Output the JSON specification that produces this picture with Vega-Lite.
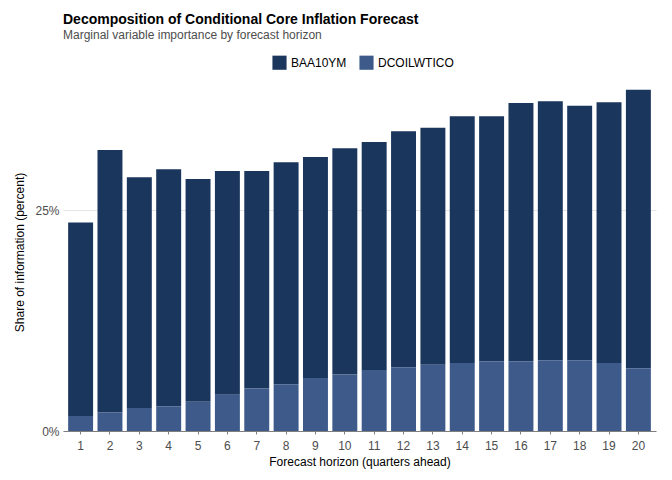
{
  "$schema": "https://vega.github.io/schema/vega-lite/v6.json",
  "autosize": "none",
  "width": 593,
  "height": 358,
  "padding": {"left": 63, "top": 73, "right": 16, "bottom": 49},
  "background": "white",
  "config": {
    "font": "Liberation Sans",
    "view": {"stroke": null}
  },
  "title": {
    "text": "Decomposition of Conditional Core Inflation Forecast",
    "subtitle": "Marginal variable importance by forecast horizon",
    "anchor": "start",
    "frame": "group",
    "fontSize": 14,
    "fontWeight": "bold",
    "color": "#000000",
    "subtitleFontSize": 12,
    "subtitleColor": "#4d4d4d",
    "subtitlePadding": 3,
    "offset": 14
  },
  "data": {
    "values": [
      {"h": 1, "variable": "BAA10YM", "value": 21.9},
      {"h": 1, "variable": "DCOILWTICO", "value": 1.7},
      {"h": 2, "variable": "BAA10YM", "value": 29.7},
      {"h": 2, "variable": "DCOILWTICO", "value": 2.1},
      {"h": 3, "variable": "BAA10YM", "value": 26.1},
      {"h": 3, "variable": "DCOILWTICO", "value": 2.6},
      {"h": 4, "variable": "BAA10YM", "value": 26.8},
      {"h": 4, "variable": "DCOILWTICO", "value": 2.8},
      {"h": 5, "variable": "BAA10YM", "value": 25.2},
      {"h": 5, "variable": "DCOILWTICO", "value": 3.3},
      {"h": 6, "variable": "BAA10YM", "value": 25.3},
      {"h": 6, "variable": "DCOILWTICO", "value": 4.1},
      {"h": 7, "variable": "BAA10YM", "value": 24.6},
      {"h": 7, "variable": "DCOILWTICO", "value": 4.8},
      {"h": 8, "variable": "BAA10YM", "value": 25.1},
      {"h": 8, "variable": "DCOILWTICO", "value": 5.3},
      {"h": 9, "variable": "BAA10YM", "value": 25.0},
      {"h": 9, "variable": "DCOILWTICO", "value": 6.0},
      {"h": 10, "variable": "BAA10YM", "value": 25.6},
      {"h": 10, "variable": "DCOILWTICO", "value": 6.4},
      {"h": 11, "variable": "BAA10YM", "value": 25.8},
      {"h": 11, "variable": "DCOILWTICO", "value": 6.9},
      {"h": 12, "variable": "BAA10YM", "value": 26.7},
      {"h": 12, "variable": "DCOILWTICO", "value": 7.2},
      {"h": 13, "variable": "BAA10YM", "value": 26.8},
      {"h": 13, "variable": "DCOILWTICO", "value": 7.5},
      {"h": 14, "variable": "BAA10YM", "value": 27.9},
      {"h": 14, "variable": "DCOILWTICO", "value": 7.7},
      {"h": 15, "variable": "BAA10YM", "value": 27.7},
      {"h": 15, "variable": "DCOILWTICO", "value": 7.9},
      {"h": 16, "variable": "BAA10YM", "value": 29.2},
      {"h": 16, "variable": "DCOILWTICO", "value": 7.9},
      {"h": 17, "variable": "BAA10YM", "value": 29.3},
      {"h": 17, "variable": "DCOILWTICO", "value": 8.0},
      {"h": 18, "variable": "BAA10YM", "value": 28.8},
      {"h": 18, "variable": "DCOILWTICO", "value": 8.0},
      {"h": 19, "variable": "BAA10YM", "value": 29.5},
      {"h": 19, "variable": "DCOILWTICO", "value": 7.7},
      {"h": 20, "variable": "BAA10YM", "value": 31.5},
      {"h": 20, "variable": "DCOILWTICO", "value": 7.1}
    ]
  },
  "mark": {"type": "bar"},
  "encoding": {
    "x": {
      "field": "h",
      "type": "ordinal",
      "title": "Forecast horizon (quarters ahead)",
      "scale": {"paddingInner": 0.15, "paddingOuter": 0.175},
      "axis": {
        "labelAngle": 0,
        "labelFontSize": 12,
        "labelColor": "#4d4d4d",
        "labelPadding": 6,
        "titleFontSize": 12,
        "titleFontWeight": "normal",
        "titleColor": "#000000",
        "titlePadding": 5,
        "domainColor": "#7f7f7f",
        "tickColor": "#7f7f7f",
        "tickSize": 3,
        "grid": false
      }
    },
    "y": {
      "field": "value",
      "type": "quantitative",
      "stack": "zero",
      "title": "Share of information (percent)",
      "scale": {"domain": [0, 40.5], "nice": false},
      "axis": {
        "values": [0, 25],
        "labelExpr": "datum.value + '%'",
        "labelFontSize": 12,
        "labelColor": "#4d4d4d",
        "labelPadding": 4,
        "titleFontSize": 12,
        "titleFontWeight": "normal",
        "titleColor": "#000000",
        "titlePadding": 8,
        "domain": false,
        "ticks": false,
        "grid": true,
        "gridColor": "#e5e5e5"
      }
    },
    "color": {
      "field": "variable",
      "type": "nominal",
      "scale": {"domain": ["BAA10YM", "DCOILWTICO"], "range": ["#1b365d", "#3d5a8a"]},
      "legend": {
        "title": null,
        "orient": "none",
        "direction": "horizontal",
        "legendX": 209,
        "legendY": -18,
        "symbolType": "square",
        "symbolSize": 200,
        "symbolStrokeWidth": 0,
        "labelFontSize": 12,
        "labelColor": "#000000",
        "columnPadding": 12
      }
    },
    "order": {"field": "variable", "sort": "descending"}
  }
}
